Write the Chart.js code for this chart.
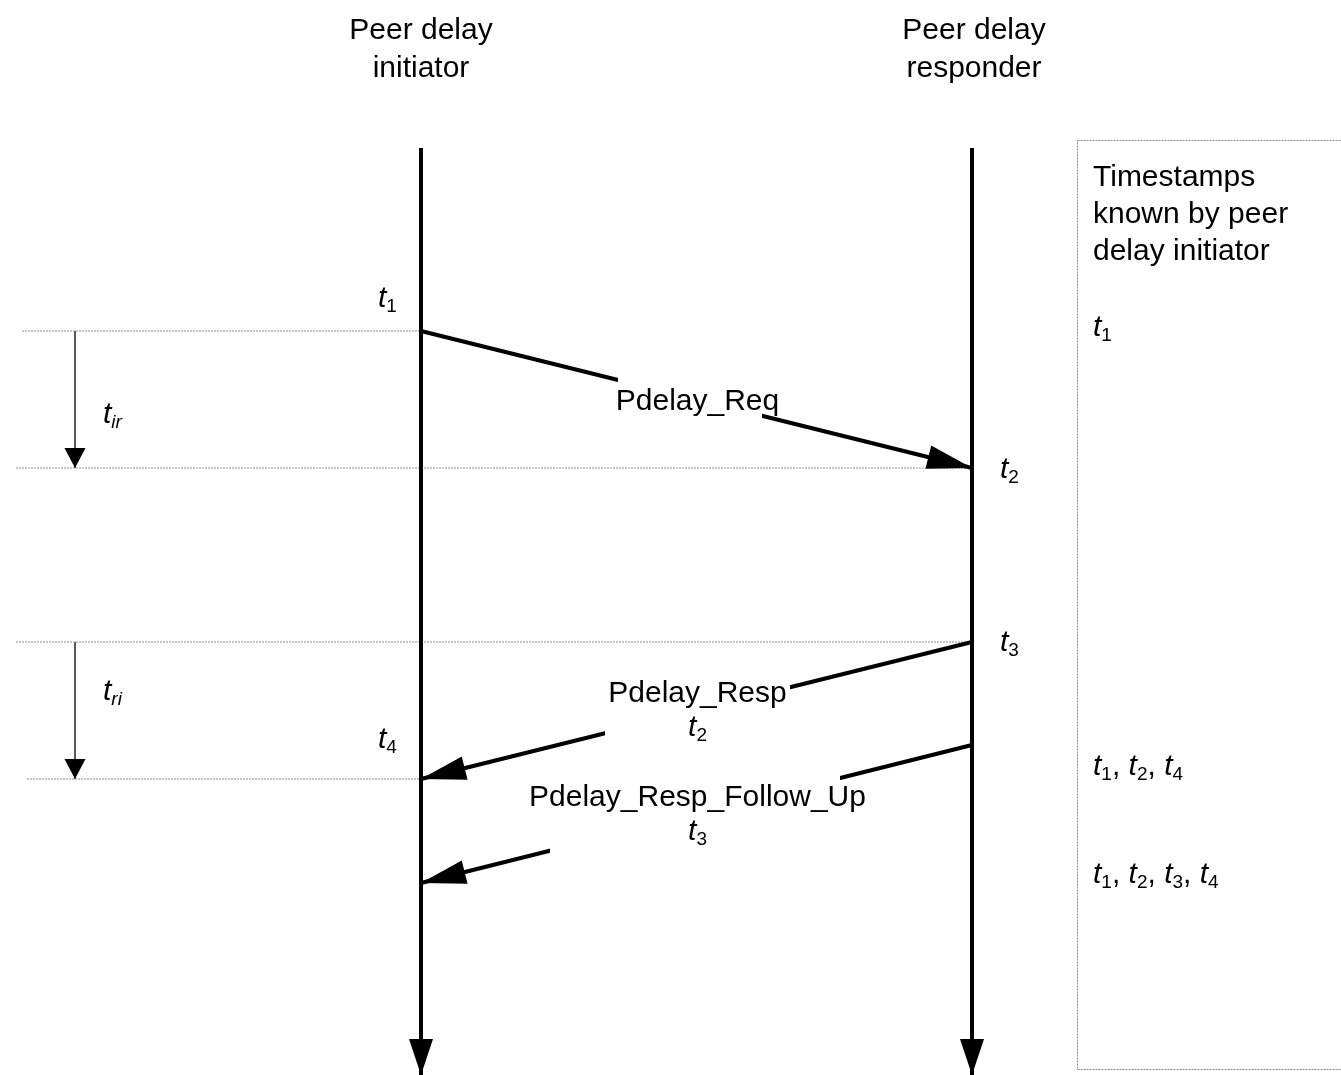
<!DOCTYPE html>
<html>
<head>
<meta charset="utf-8">
<script src="https://cdn.jsdelivr.net/npm/chart.js@4.4.1/dist/chart.umd.min.js"></script>
<style>
  html, body { margin: 0; padding: 0; background: #fff; }
  canvas { display: block; }
</style>
</head>
<body>
<canvas id="seq" width="1341" height="1075"></canvas>
<script>
// lifelines
const lifelineNames = ['initiator', 'responder'];
const lifelineX = [421, 972];
const lifelineSpan = [148, 1075];

// messages (y = time, grows downwards)
const msgNames = ['Pdelay_Req', 'Pdelay_Resp', 'Pdelay_Resp_Follow_Up'];
const msgCarries = ['', '2', '3'];
const msgFrom = [0, 1, 1];
const msgTo = [1, 0, 0];
const msgSend = [331, 642, 745];
const msgRecv = [468, 779, 883];

// timestamp events
const eventSub = ['1', '2', '3', '4'];
const eventSide = [0, 1, 1, 0];
const eventTime = [331, 468, 642, 779];

// intervals measured at the left
const intervalNames = ['ir', 'ri'];
const intervalFrom = [331, 642];
const intervalTo = [468, 779];

// dotted guides
const guideY = [331, 468, 642, 779];
const guideFromX = [22, 16, 16, 27];
const guideToX = [421, 972, 972, 421];

// timestamps known by initiator
const knownTimes = [['1'], ['1', '2', '4'], ['1', '2', '3', '4']];
const knownAt = [336, 775, 883];

const FONT = "'Liberation Sans', Arial, sans-serif";
const gapBoxes = [
  { x0: 618, x1: 762, y0: 368, y1: 421 },
  { x0: 605, x1: 790, y0: 672, y1: 746 },
  { x0: 550, x1: 840, y0: 770, y1: 857 }
];
const eventOffset = [[-43, -24], [28, 10], [28, 9], [-43, -31]];

function pts(xs, ys) {
  return xs.map((x, i) => ({ x: x, y: ys[i] }));
}

const datasets = [];
lifelineX.forEach((x, i) => {
  datasets.push({
    data: pts([x, x], lifelineSpan),
    borderColor: '#000', borderWidth: 4,
    arrow: { len: 36, half: 12 }
  });
});
msgNames.forEach((n, i) => {
  datasets.push({
    data: pts([lifelineX[msgFrom[i]], lifelineX[msgTo[i]]], [msgSend[i], msgRecv[i]]),
    borderColor: '#000', borderWidth: 4,
    arrow: { len: 45, half: 12 }
  });
});
guideY.forEach((y, i) => {
  datasets.push({
    data: pts([guideFromX[i], guideToX[i]], [y, y]),
    borderColor: '#8a8a8a', borderWidth: 1, borderDash: [2, 1]
  });
});
intervalNames.forEach((n, i) => {
  datasets.push({
    data: pts([75, 75], [intervalFrom[i], intervalTo[i]]),
    borderColor: '#000', borderWidth: 1.3,
    arrow: { len: 20, half: 10.5 }
  });
});
datasets.forEach(d => {
  d.showLine = true; d.pointRadius = 0; d.fill = false; d.tension = 0;
  d.clip = false; d.borderCapStyle = 'butt';
});

function tSub(ctx, x, y, sub, subItalic, align) {
  ctx.font = 'italic 30px ' + FONT;
  const wt = ctx.measureText('t').width;
  ctx.font = (subItalic ? 'italic ' : '') + '19px ' + FONT;
  const ws = ctx.measureText(sub).width;
  let x0 = x;
  if (align === 'center') x0 = x - (wt + ws) / 2;
  ctx.textAlign = 'left';
  ctx.font = 'italic 30px ' + FONT;
  ctx.fillText('t', x0, y);
  ctx.font = (subItalic ? 'italic ' : '') + '19px ' + FONT;
  ctx.fillText(sub, x0 + wt, y + 5);
  return x0 + wt + ws;
}

const diagram = {
  id: 'diagram',
  afterDatasetsDraw(chart) {
    const ctx = chart.ctx;
    const sx = chart.scales.x, sy = chart.scales.y;
    const px = v => sx.getPixelForValue(v);
    const py = v => sy.getPixelForValue(v);
    ctx.save();
    ctx.fillStyle = '#000';
    ctx.textBaseline = 'alphabetic';

    // white gaps behind message labels
    gapBoxes.forEach(b => {
      ctx.fillStyle = '#fff';
      ctx.fillRect(px(b.x0), py(b.y0), px(b.x1) - px(b.x0), py(b.y1) - py(b.y0));
    });
    ctx.fillStyle = '#000';

    // arrowheads
    chart.data.datasets.forEach(d => {
      if (!d.arrow) return;
      const a = d.data[0], b = d.data[d.data.length - 1];
      const x1 = px(a.x), y1 = py(a.y), x2 = px(b.x), y2 = py(b.y);
      const ang = Math.atan2(y2 - y1, x2 - x1);
      const bx = x2 - d.arrow.len * Math.cos(ang), by = y2 - d.arrow.len * Math.sin(ang);
      const nx = -Math.sin(ang) * d.arrow.half, ny = Math.cos(ang) * d.arrow.half;
      ctx.beginPath();
      ctx.moveTo(x2, y2);
      ctx.lineTo(bx + nx, by + ny);
      ctx.lineTo(bx - nx, by - ny);
      ctx.closePath();
      ctx.fill();
    });

    // lifeline titles
    ctx.font = '30px ' + FONT;
    ctx.textAlign = 'center';
    lifelineX.forEach((x, i) => {
      const cx = px(x) + (i === 1 ? 2 : 0);
      ctx.fillText('Peer delay', cx, 39);
      ctx.fillText(lifelineNames[i], cx, 77);
    });

    // message labels
    const msgBase = [410, 702, 806];
    msgNames.forEach((n, i) => {
      const cx = (px(lifelineX[0]) + px(lifelineX[1])) / 2 + 1;
      ctx.font = '30px ' + FONT;
      ctx.textAlign = 'center';
      ctx.fillText(n, cx, msgBase[i]);
      if (msgCarries[i]) tSub(ctx, cx, msgBase[i] + 34, msgCarries[i], false, 'center');
    });

    // event timestamps
    eventSub.forEach((s, i) => {
      const o = eventOffset[i];
      tSub(ctx, px(lifelineX[eventSide[i]]) + o[0], py(eventTime[i]) + o[1], s, false);
    });

    // interval labels
    intervalNames.forEach((n, i) => {
      tSub(ctx, 103, py(intervalFrom[i]) + (i === 0 ? 92 : 58), n, true);
    });

    // timestamps box
    ctx.strokeStyle = '#8a8a8a';
    ctx.lineWidth = 1;
    ctx.setLineDash([2, 1]);
    ctx.strokeRect(1077.5, 140.5, 300, 929);
    ctx.setLineDash([]);
    ctx.font = '30px ' + FONT;
    ctx.textAlign = 'left';
    ['Timestamps', 'known by peer', 'delay initiator'].forEach((s, i) => {
      ctx.fillText(s, 1093, 186 + i * 37);
    });
    knownTimes.forEach((list, i) => {
      let x = 1093;
      list.forEach((s, j) => {
        x = tSub(ctx, x, py(knownAt[i]), s, false);
        if (j < list.length - 1) {
          ctx.font = '30px ' + FONT;
          ctx.fillText(', ', x, py(knownAt[i]));
          x += ctx.measureText(', ').width;
        }
      });
    });
    ctx.restore();
  }
};

new Chart(document.getElementById('seq').getContext('2d'), {
  type: 'scatter',
  data: { datasets: datasets },
  options: {
    responsive: false,
    animation: false,
    devicePixelRatio: 1,
    layout: { padding: 0 },
    plugins: { legend: { display: false }, tooltip: { enabled: false } },
    scales: {
      x: { type: 'linear', min: 0, max: 1341, display: false },
      y: { type: 'linear', min: 0, max: 1075, reverse: true, display: false }
    }
  },
  plugins: [diagram]
});
</script>
</body>
</html>
